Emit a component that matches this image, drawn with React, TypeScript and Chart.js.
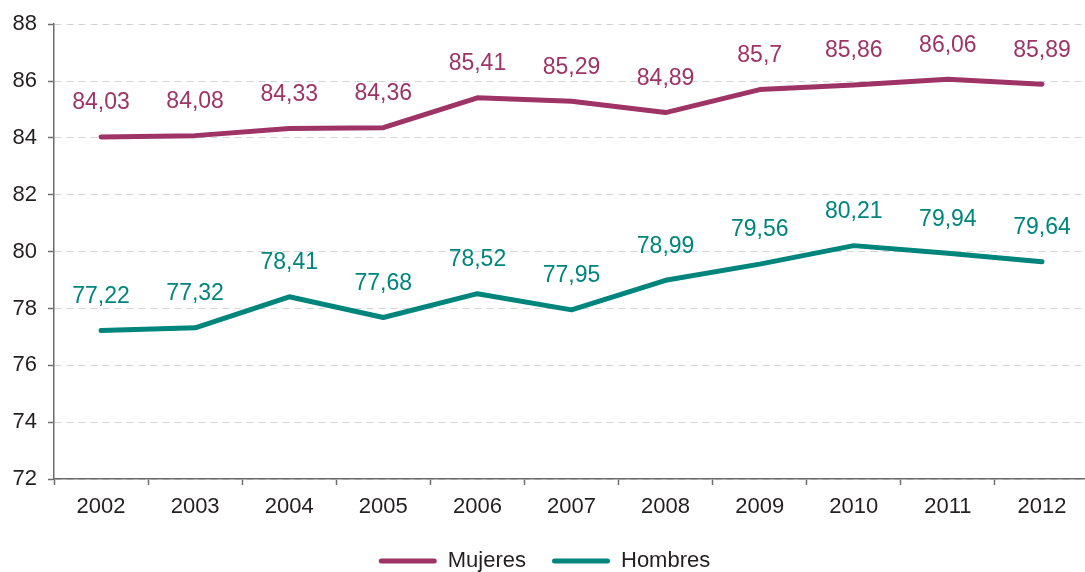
import React, { useEffect, useRef } from "react";
import { Chart, registerables } from "chart.js";

Chart.register(...registerables);

const years = ["2002", "2003", "2004", "2005", "2006", "2007", "2008", "2009", "2010", "2011", "2012"];
const mujeres = [84.03, 84.08, 84.33, 84.36, 85.41, 85.29, 84.89, 85.7, 85.86, 86.06, 85.89];
const hombres = [77.22, 77.32, 78.41, 77.68, 78.52, 77.95, 78.99, 79.56, 80.21, 79.94, 79.64];
const seriesNames = ["Mujeres", "Hombres"];
const seriesColors = ["#9e3366", "#00857d"];

const FONT = "'Liberation Sans', Arial, Helvetica, sans-serif";

const valueLabels = {
  id: "valueLabels",
  afterDatasetsDraw(chart: any) {
    const ctx = chart.ctx;
    ctx.save();
    ctx.font = `23px ${FONT}`;
    ctx.textAlign = "center";
    ctx.textBaseline = "middle";
    chart.data.datasets.forEach((ds: any, i: number) => {
      const meta = chart.getDatasetMeta(i);
      ctx.fillStyle = ds.borderColor;
      meta.data.forEach((pt: any, j: number) => {
        const txt = String(ds.data[j]).replace(".", ",");
        ctx.fillText(txt, pt.x, pt.y - 34);
      });
    });
    ctx.restore();
  },
};

export default function App() {
  const ref = useRef<HTMLCanvasElement | null>(null);
  useEffect(() => {
    if (!ref.current) return;
    const chart = new Chart(ref.current, {
      type: "line",
      data: {
        labels: years,
        datasets: [
          {
            label: seriesNames[0],
            data: mujeres,
            borderColor: seriesColors[0],
            backgroundColor: seriesColors[0],
            borderWidth: 5,
            pointRadius: 0,
            tension: 0,
            borderCapStyle: "round",
            borderJoinStyle: "round",
          },
          {
            label: seriesNames[1],
            data: hombres,
            borderColor: seriesColors[1],
            backgroundColor: seriesColors[1],
            borderWidth: 5,
            pointRadius: 0,
            tension: 0,
            borderCapStyle: "round",
            borderJoinStyle: "round",
          },
        ],
      },
      options: {
        responsive: false,
        animation: false,
        devicePixelRatio: 1,
        layout: { padding: { top: 18, right: 1, left: 0, bottom: 0 } },
        plugins: {
          tooltip: { enabled: false },
          legend: {
            position: "bottom",
            labels: {
              boxWidth: 58,
              boxHeight: 5,
              padding: 26,
              useBorderRadius: true,
              borderRadius: 2.5,
              color: "#231f20",
              font: { family: FONT, size: 22 },
              generateLabels: (c: any) =>
                c.data.datasets.map((ds: any, i: number) => ({
                  text: ds.label,
                  fillStyle: ds.borderColor,
                  strokeStyle: ds.borderColor,
                  lineWidth: 0,
                  borderRadius: 2.5,
                  fontColor: "#231f20",
                  datasetIndex: i,
                  hidden: false,
                })),
            },
          },
        },
        scales: {
          x: {
            offset: true,
            afterFit: (s: any) => {
              s.height = 45;
            },
            grid: {
              offset: true,
              drawOnChartArea: false,
              drawTicks: true,
              tickLength: 6,
              tickColor: "#6d6d6d",
              tickWidth: 1.5,
            },
            border: { display: true, color: "#6d6d6d", width: 1.5 },
            ticks: {
              color: "#231f20",
              padding: 9,
              font: { family: FONT, size: 22 },
            },
          },
          y: {
            min: 72,
            max: 88,
            afterFit: (s: any) => {
              s.width = 54;
            },
            grid: {
              color: "#d4d4d4",
              lineWidth: 1,
              tickLength: 6,
              tickColor: "#6d6d6d",
              tickWidth: 1.5,
              tickBorderDash: [],
            },
            border: { display: true, color: "#6d6d6d", width: 1.5, dash: [7, 5] },
            ticks: {
              stepSize: 2,
              color: "#231f20",
              padding: 11,
              font: { family: FONT, size: 22 },
            },
          },
        },
      },
      plugins: [valueLabels],
    } as any);
    return () => chart.destroy();
  }, []);

  return (
    <div
      style={{
        position: "fixed",
        left: 0,
        top: 0,
        width: 1085,
        height: 572,
        overflow: "hidden",
        background: "#fff",
      }}
    >
      <canvas ref={ref} width={1090} height={582} style={{ display: "block" }} />
    </div>
  );
}
